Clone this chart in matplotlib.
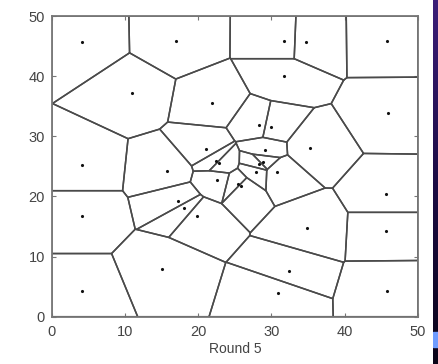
import matplotlib
matplotlib.use("Agg")
import matplotlib.pyplot as plt
import numpy as np

# sensor positions after round 5 (clusters are several points close together)
xs = [4.2, 17.0, 31.7, 34.7, 45.8, 11.0, 21.9, 31.7, 45.9, 28.3, 30.0,
      4.2, 15.8, 21.0, 22.4, 22.9, 22.5, 25.4, 25.9, 28.3, 28.8, 29.1,
      27.9, 30.8, 35.2, 4.2, 17.3, 18.1, 19.8, 15.1, 4.2, 34.9, 32.4,
      30.9, 45.7, 45.7, 45.8]
ys = [45.7, 45.9, 45.8, 45.7, 45.8, 37.2, 35.5, 40.0, 33.8, 31.8, 31.5,
      25.2, 24.2, 27.9, 25.9, 25.5, 22.7, 22.1, 21.7, 25.4, 25.8, 27.8,
      24.1, 24.0, 28.1, 16.7, 19.2, 18.0, 16.8, 8.0, 4.3, 14.8, 7.6,
      4.0, 20.4, 14.3, 4.3]
lim = [0, 50]
ticks = [0, 10, 20, 30, 40, 50]

plt.rcParams["font.family"] = ["Liberation Sans", "DejaVu Sans"]


def clip(poly, a, b, c):
    # keep part of polygon with a*x + b*y <= c
    out = []
    n = len(poly)
    for k in range(n):
        p = poly[k]
        q = poly[(k + 1) % n]
        fp = a * p[0] + b * p[1] - c
        fq = a * q[0] + b * q[1] - c
        if fp <= 0:
            out.append(p)
        if fp * fq < 0:
            t = fp / (fp - fq)
            out.append((p[0] + t * (q[0] - p[0]), p[1] + t * (q[1] - p[1])))
    return out


pts = np.column_stack([xs, ys])
cells = []
for i, pi in enumerate(pts):
    poly = [(lim[0], lim[0]), (lim[1], lim[0]), (lim[1], lim[1]), (lim[0], lim[1])]
    for j, pj in enumerate(pts):
        if i == j:
            continue
        d = pj - pi
        m = (pi + pj) / 2
        poly = clip(poly, d[0], d[1], d @ m)
        if not poly:
            break
    cells.append(poly)

fig = plt.figure(figsize=(4.39, 3.64), dpi=100)
ax = fig.add_axes([0.1178, 0.13, 0.8342, 0.826])

col = "#4a4a4a"
for poly in cells:
    p = np.array(poly + [poly[0]])
    ax.plot(p[:, 0], p[:, 1], color=col, lw=1.1, solid_capstyle="round")
ax.plot(xs, ys, ".", color="#111111", markersize=2.5)

ax.set_xlim(lim)
ax.set_ylim(lim)
ax.set_xticks(ticks)
ax.set_yticks(ticks)
ax.tick_params(direction="in", top=True, right=True, length=3, width=0.8,
               colors="#777777", labelsize=10.5, labelcolor="#444444")
ax.tick_params(axis="x", pad=6)
ax.tick_params(axis="y", pad=5)
for s in ax.spines.values():
    s.set_color("#777777")
    s.set_linewidth(1.3)
ax.set_xlabel("Round 5", fontsize=10, color="#444444", labelpad=2)

# slide background strip on the right
strip = fig.add_axes([433 / 439, 0, 6 / 439, 1])
grad = np.linspace(0, 1, 256)[:, None]
strip.imshow(grad, aspect="auto", cmap=matplotlib.colors.LinearSegmentedColormap.from_list(
    "s", ["#3c1e78", "#1c0c44", "#0a0418"]), extent=[0, 1, 0, 1], origin="upper")
strip.add_patch(plt.Rectangle((0, 17 / 364), 1, 15 / 364, color="#6f9cff"))
strip.set_axis_off()

fig.savefig("out.png", dpi=100)
